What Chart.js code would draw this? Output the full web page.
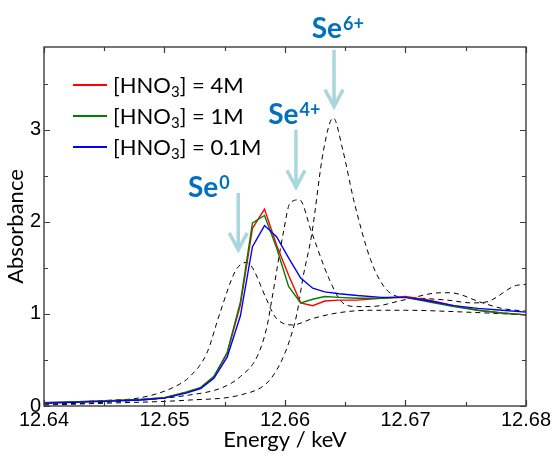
<!DOCTYPE html>
<html>
<head>
<meta charset="utf-8">
<script src="https://cdn.jsdelivr.net/npm/chart.js@4.4.0/dist/chart.umd.min.js"></script>
<style>
  html, body { margin: 0; padding: 0; background: #fff; }
</style>
</head>
<body>
<canvas id="myChart" width="553" height="456"></canvas>
<script>
// --------------------------- DATA ---------------------------

const xTicks = [12.64, 12.65, 12.66, 12.67, 12.68];
const yTicks = [0, 1, 2, 3];

// measured spectra, same energy grid for all three samples
const eMeas = [12.640, 12.645, 12.648, 12.650, 12.6518, 12.6530, 12.6541, 12.6552, 12.6563, 12.6573,
               12.6583, 12.6593, 12.6603, 12.6613, 12.6623, 12.6633, 12.6645, 12.666, 12.668, 12.670,
               12.672, 12.674, 12.676, 12.678, 12.680];
const abs4M  = [0.035, 0.055, 0.07, 0.09, 0.15, 0.20, 0.32, 0.57, 1.10, 1.93,
                2.14, 1.75, 1.42, 1.12, 1.09, 1.14, 1.15, 1.15, 1.17, 1.19,
                1.15, 1.09, 1.04, 1.01, 0.99];
const abs1M  = [0.035, 0.055, 0.07, 0.09, 0.15, 0.20, 0.32, 0.58, 1.13, 1.99,
                2.07, 1.72, 1.30, 1.12, 1.16, 1.19, 1.18, 1.17, 1.17, 1.18,
                1.13, 1.08, 1.04, 1.01, 0.99];
const abs01M = [0.03, 0.05, 0.065, 0.085, 0.14, 0.19, 0.30, 0.53, 0.98, 1.73,
                1.96, 1.84, 1.61, 1.39, 1.28, 1.24, 1.22, 1.20, 1.18, 1.18,
                1.14, 1.09, 1.06, 1.04, 1.02];
const concLabels = ['4M', '1M', '0.1M'];

// reference spectra (dashed)
const eSe0 = [12.640, 12.645, 12.648, 12.6507, 12.6521, 12.6535, 12.6546, 12.6559, 12.6568, 12.6585,
              12.6588, 12.6593, 12.6606, 12.6623, 12.6643, 12.667, 12.670, 12.675, 12.680];
const aSe0 = [0.03, 0.06, 0.09, 0.20, 0.32, 0.57, 1.01, 1.47, 1.56, 1.15,
              1.06, 0.95, 0.88, 0.95, 1.01, 1.04, 1.04, 1.02, 0.99];

const eSe4 = [12.640, 12.645, 12.6521, 12.6548, 12.6563, 12.6577, 12.6585, 12.6589, 12.6599, 12.6604,
              12.6612, 12.6622, 12.6637, 12.6648, 12.6660, 12.6671, 12.6698, 12.6729, 12.6737, 12.6764,
              12.6780, 12.680];
const aSe4 = [0.02, 0.04, 0.12, 0.20, 0.32, 0.54, 0.86, 1.15, 1.91, 2.20,
              2.24, 1.89, 1.37, 1.12, 1.08, 1.08, 1.15, 1.23, 1.23, 1.12,
              1.06, 1.03];

const eSe6 = [12.640, 12.645, 12.6521, 12.6563, 12.6585, 12.6596, 12.6604, 12.6610, 12.6615, 12.6622,
              12.6632, 12.6640, 12.6648, 12.6657, 12.6671, 12.6682, 12.6693, 12.6700, 12.6735, 12.6755,
              12.6767, 12.6792, 12.680];
const aSe6 = [0.01, 0.03, 0.065, 0.12, 0.25, 0.46, 0.72, 1.01, 1.40, 1.85,
              2.78, 3.13, 2.78, 2.24, 1.59, 1.30, 1.19, 1.18, 1.15, 1.12,
              1.13, 1.31, 1.32];

// oxidation state labels with arrows (energy / absorbance anchors)
const seStates  = ['0', '4+', '6+'];
const seTextE   = [12.65195, 12.65861, 12.66222];
const seTextA   = [2.275, 3.062, 3.997];
const seArrowE  = [12.65612, 12.66091, 12.66407];
const seArrowTop = [2.315, 3.0, 3.87];
const seArrowTip = [1.696, 2.377, 3.253];

// --------------------------- CHART RELATED ---------------------------

const pts = (xs, ys) => xs.map((x, i) => ({x: x, y: ys[i]}));

const solid = (label, color, ys, order) => ({
    label: label,
    data: pts(eMeas, ys),
    borderColor: color,
    borderWidth: 1.4,
    pointRadius: 0,
    tension: 0,
    order: order
});
const dashed = (label, xs, ys) => ({
    label: label,
    data: pts(xs, ys),
    borderColor: '#000',
    borderWidth: 1,
    borderDash: [5, 4],
    pointRadius: 0,
    cubicInterpolationMode: 'monotone',
    order: 10
});

const LABEL_FONT = 'Lato, "Open Sans", sans-serif';
const TICK_FONT = '"Liberation Sans", Arial, sans-serif';

// frame with inward ticks on all four sides, legend and Se markers
const frameTicks = {
    id: 'frameTicks',
    afterDatasetsDraw(chart) {
        const {ctx, chartArea: a, scales: {x, y}} = chart;
        ctx.save();
        ctx.strokeStyle = '#3c3c3c';
        ctx.lineWidth = 1.2;
        ctx.beginPath();
        const xMinor = xTicks.slice(1).map((v, i) => (v + xTicks[i]) / 2);
        const yMinor = yTicks.map(v => v + 0.5);
        const tx = (v, len) => {
            const px = Math.round(x.getPixelForValue(v)) + 0.5;
            ctx.moveTo(px, a.bottom); ctx.lineTo(px, a.bottom - len);
            ctx.moveTo(px, a.top); ctx.lineTo(px, a.top + len);
        };
        const ty = (v, len) => {
            const py = Math.round(y.getPixelForValue(v)) + 0.5;
            ctx.moveTo(a.left, py); ctx.lineTo(a.left + len, py);
            ctx.moveTo(a.right, py); ctx.lineTo(a.right - len, py);
        };
        xTicks.forEach(v => tx(v, 6));
        xMinor.forEach(v => tx(v, 4));
        yTicks.forEach(v => ty(v, 6));
        yMinor.forEach(v => ty(v, 4));
        ctx.stroke();
        ctx.lineWidth = 1.4;
        ctx.strokeRect(a.left, a.top, a.right - a.left, a.bottom - a.top);
        ctx.restore();
    },
    afterDraw(chart) {
        const {ctx, chartArea: a, scales: {x, y}} = chart;
        ctx.save();

        // legend: [HNO3] = ...
        const rows = chart.data.datasets.filter(d => d.order < 10);
        rows.forEach((d, i) => {
            const cy = a.top + 38 + i * 31;
            ctx.strokeStyle = d.borderColor;
            ctx.lineWidth = 2;
            ctx.beginPath();
            ctx.moveTo(a.left + 29, cy);
            ctx.lineTo(a.left + 63, cy);
            ctx.stroke();
            ctx.fillStyle = '#000';
            ctx.textBaseline = 'alphabetic';
            let tx = a.left + 69;
            const base = cy + 8;
            ctx.font = '22px ' + LABEL_FONT;
            ctx.fillText('[HNO', tx, base);
            tx += ctx.measureText('[HNO').width;
            ctx.font = '15px ' + LABEL_FONT;
            ctx.fillText('3', tx, base + 4);
            tx += ctx.measureText('3').width;
            ctx.font = '22px ' + LABEL_FONT;
            ctx.fillText('] = ' + d.label, tx, base);
        });

        // Se labels and arrows
        seStates.forEach((s, i) => {
            const ax = x.getPixelForValue(seArrowE[i]);
            const top = y.getPixelForValue(seArrowTop[i]);
            const tip = y.getPixelForValue(seArrowTip[i]);
            ctx.strokeStyle = '#a9d7dc';
            ctx.lineWidth = 3.5;
            ctx.beginPath();
            ctx.moveTo(ax, top);
            ctx.lineTo(ax, tip - 2);
            ctx.moveTo(ax - 9, tip - 17);
            ctx.lineTo(ax, tip);
            ctx.lineTo(ax + 9, tip - 17);
            ctx.stroke();

            const lx = x.getPixelForValue(seTextE[i]);
            const ly = y.getPixelForValue(seTextA[i]);
            ctx.fillStyle = '#0070c0';
            ctx.textBaseline = 'alphabetic';
            ctx.font = 'bold 28px ' + LABEL_FONT;
            ctx.fillText('Se', lx, ly);
            const w = ctx.measureText('Se').width;
            ctx.font = 'bold 18px ' + LABEL_FONT;
            ctx.fillText(s, lx + w + 1, ly - 8);
        });
        ctx.restore();
    }
};

let ctx = document.querySelector('#myChart');
let myChart = new Chart(ctx, {
    type: 'line',
    data: {
        datasets: [
            solid(concLabels[0], '#ff0000', abs4M, 3),
            solid(concLabels[1], '#008000', abs1M, 2),
            solid(concLabels[2], '#0000ff', abs01M, 1),
            dashed('Se0', eSe0, aSe0),
            dashed('Se4+', eSe4, aSe4),
            dashed('Se6+', eSe6, aSe6)
        ]
    },
    options: {
        responsive: false,
        animation: false,
        layout: { padding: { top: 47, right: 27, left: 0, bottom: 0 } },
        plugins: { legend: { display: false }, tooltip: { enabled: false } },
        scales: {
            x: {
                type: 'linear',
                min: 12.64,
                max: 12.68,
                afterBuildTicks: s => { s.ticks = xTicks.map(v => ({value: v})); },
                afterFit: s => { s.height = 50; },
                grid: { display: false, drawTicks: false },
                border: { display: false },
                ticks: {
                    padding: 2,
                    color: '#000',
                    font: { family: TICK_FONT, size: 20 },
                    callback: v => v.toFixed(2),
                    maxRotation: 0
                },
                title: {
                    display: true,
                    text: 'Energy / keV',
                    color: '#000',
                    font: { family: LABEL_FONT, size: 22 },
                    padding: { top: 0, bottom: 3 }
                }
            },
            y: {
                min: 0,
                max: 3.9,
                afterBuildTicks: s => { s.ticks = yTicks.map(v => ({value: v})); },
                afterFit: s => { s.width = 44; },
                grid: { display: false, drawTicks: false },
                border: { display: false },
                ticks: {
                    padding: 3,
                    color: '#000',
                    font: { family: TICK_FONT, size: 20 },
                    callback: v => String(v)
                },
                title: {
                    display: true,
                    text: 'Absorbance',
                    color: '#000',
                    font: { family: LABEL_FONT, size: 22 },
                    padding: { top: 3, bottom: 0 }
                }
            }
        }
    },
    plugins: [frameTicks]
});
</script>
</body>
</html>
